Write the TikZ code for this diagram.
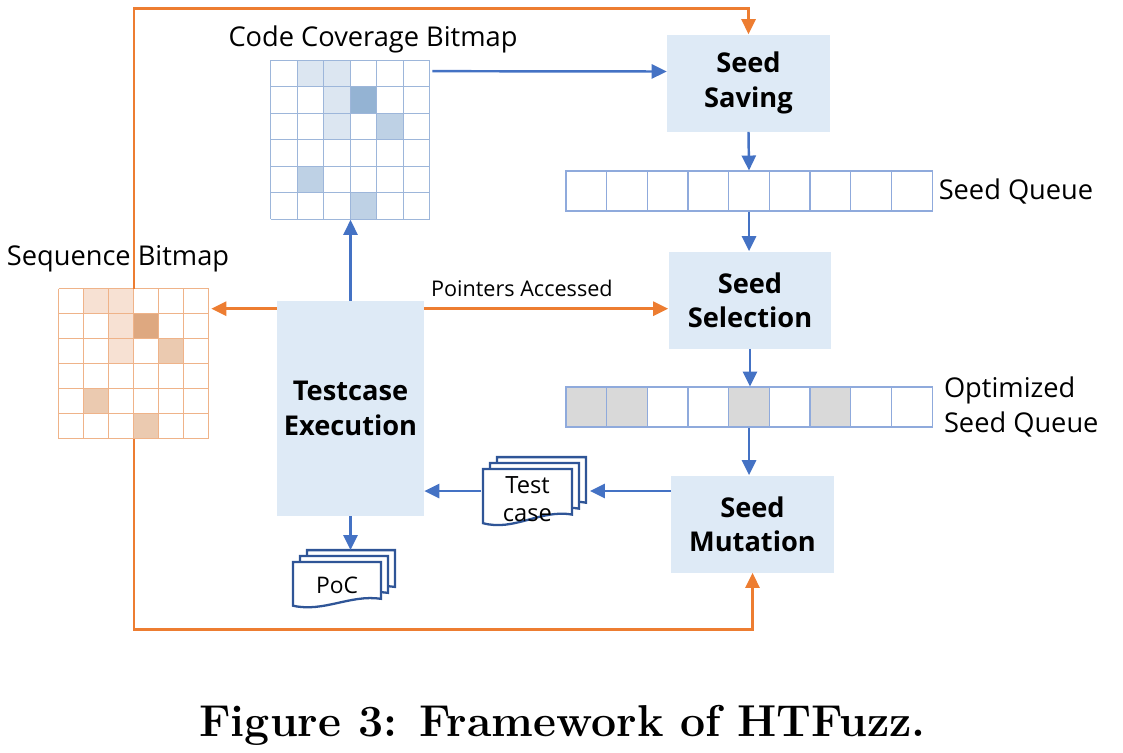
\documentclass[tikz,border=0pt]{standalone}
\usepackage{fontspec}
\newfontfamily\labelfont{Open Sans}
\usetikzlibrary{arrows.meta,positioning,calc}

\definecolor{boxblue}{HTML}{DEEAF6}
\definecolor{arrblue}{HTML}{4472C4}
\definecolor{arrorange}{HTML}{ED7D31}
\definecolor{docblue}{HTML}{2F5597}
\definecolor{qline}{HTML}{8FAADC}
\definecolor{qgray}{HTML}{D9D9D9}
\definecolor{covline}{HTML}{9DB6DA}
\definecolor{covlight}{HTML}{DCE6F1}
\definecolor{covmid}{HTML}{BED1E5}
\definecolor{covdark}{HTML}{94B3D3}
\definecolor{seqline}{HTML}{EFB389}
\definecolor{seqlight}{HTML}{F7E1D3}
\definecolor{seqmid}{HTML}{EBCAB0}
\definecolor{seqdark}{HTML}{DEA880}

\begin{document}
\begin{tikzpicture}[x=0.02cm,y=-0.02cm,>={Triangle[length=8.5pt,width=8pt]},
  every node/.style={font=\labelfont\fontsize{15.5}{19.5}\selectfont},
  stage/.style={fill=boxblue,minimum width=3.26cm,minimum height=1.94cm,align=center,
    font=\labelfont\bfseries\fontsize{15.5}{19.5}\selectfont},
  qcell/.style={draw=qline,line width=0.6pt,minimum width=0.813cm,minimum height=0.8cm,inner sep=0pt},
  gridbox/.style={inner sep=0pt,minimum size=#1},
  doctext/.style={align=center,font=\labelfont\fontsize{13.5}{16}\selectfont},
  blu/.style={draw=arrblue,line width=1.4pt},
  ora/.style={draw=arrorange,line width=1.4pt},
  docline/.style={draw=docblue,line width=1.3pt,fill=white},
  pics/docs/.style n args={2}{code={
    \foreach \o in {14,7,0} {
      \begin{scope}[shift={(\o,-0.85*\o)}]
        \draw[docline] (0,0) -- (#1,0) -- (#1,0.8*#2)
          .. controls (0.65*#1,0.7*#2) and (0.35*#1,1.1*#2) .. (0,0.95*#2) -- cycle;
      \end{scope}
    }
  }}]

\useasboundingbox (0,0) rectangle (1123,752);

% stages
\node[stage] (sav) at (748.5,83)  {Seed\\Saving};
\node[stage] (sel) at (750,300)   {Seed\\Selection};
\node[stage] (mut) at (752.5,524) {Seed\\Mutation};
\node[stage,minimum width=2.94cm,minimum height=4.3cm] (exe) at (350.5,408.5) {Testcase\\Execution};

% queues
\foreach \i in {1,...,9}
  \node[qcell] (sq\i) at (566+40.67*\i-20.33,191) {};
\foreach \i/\f in {1/qgray,2/qgray,3/white,4/white,5/qgray,6/white,7/qgray,8/white,9/white}
  \node[qcell,fill=\f] (oq\i) at (566+40.67*\i-20.33,407) {};
\node[right=0pt of sq9] (sqt) {Seed Queue};
\node[right=3pt of oq9,align=left] (oqt) {Optimized\\Seed Queue};

% bitmaps
\node[gridbox=3.18cm] (cov) at (350.5,140) {};
\node[gridbox=3cm] (seq) at (134,364) {};
\foreach \c/\r/\s in {1/0/covlight,2/0/covlight,2/1/covlight,3/1/covdark,2/2/covlight,4/2/covmid,1/4/covmid,3/5/covmid}
  \fill[\s] ($(cov.north west)+(26.5*\c,26.5*\r)$) rectangle ++(26.5,26.5);
\foreach \c/\r/\s in {1/0/seqlight,2/0/seqlight,2/1/seqlight,3/1/seqdark,2/2/seqlight,4/2/seqmid,1/4/seqmid,3/5/seqmid}
  \fill[\s] ($(seq.north west)+(25*\c,25*\r)$) rectangle ++(25,25);
\foreach \i in {0,...,6} {
  \draw[covline,line width=0.7pt] ($(cov.north west)+(26.5*\i,0)$) -- ++(0,159);
  \draw[covline,line width=0.7pt] ($(cov.north west)+(0,26.5*\i)$) -- ++(159,0);
  \draw[seqline,line width=0.7pt] ($(seq.north west)+(25*\i,0)$) -- ++(0,150);
  \draw[seqline,line width=0.7pt] ($(seq.north west)+(0,25*\i)$) -- ++(150,0);
}
\node (covt) at (373,39)  {Code Coverage Bitmap};
\node (seqt) at (118,259) {Sequence Bitmap};

% test cases and PoC
\pic at (483,469) {docs={89}{57}};
\pic at (293,562) {docs={88}{46}};
\node[doctext] (tc) at (527.5,499) {Test\\case};
\node[doctext,font=\labelfont\fontsize{13}{16}\selectfont] (poc) at (337,585) {PoC};
\coordinate (tcr) at (590,491);
\coordinate (tcl) at (481,491);
\coordinate (poct) at (350.5,550);

% blue flow
\draw[blu,->] ($(cov.north east)+(2,11)$) -- ($(sav.west)+(0,-11.5)$);
\draw[blu,->] (sav.south) -- (sq5.north);
\draw[blu,->] (sq5.south) -- (sq5.south |- sel.north);
\draw[blu,->] (sel.south) -- (sel.south |- oq5.north);
\draw[blu,->] (oq5.south) -- (oq5.south |- mut.north);
\draw[blu,->] (mut.west |- tcr) -- (tcr);
\draw[blu,->] (tcl) -- (tcl -| exe.east);
\draw[blu,->] (exe.north) -- (cov.south);
\draw[blu,->] (exe.south) -- (poct);

% orange flow
\coordinate (pa) at ($(exe.north east)+(0,8)$);
\coordinate (pb) at ($(exe.north west)+(0,8)$);
\draw[ora,->] (pa) -- (pa -| sel.west)
  node[pos=0.4,above=3pt,font=\labelfont\fontsize{12.3}{15}\selectfont] (pat) {Pointers Accessed};
\draw[ora,->] (pb) -- ($(pb -| seq.east)+(2,0)$);
\draw[ora,->] (seq.north) -- ++(0,-280) -| (sav.north);
\draw[ora,->] (seq.south) -- ++(0,190) -| (mut.south);

\node[font=\bfseries\fontsize{25.4}{30}\selectfont,anchor=base] (cap) at (562.5,736) {Figure 3: Framework of HTFuzz.};
\end{tikzpicture}
\end{document}
